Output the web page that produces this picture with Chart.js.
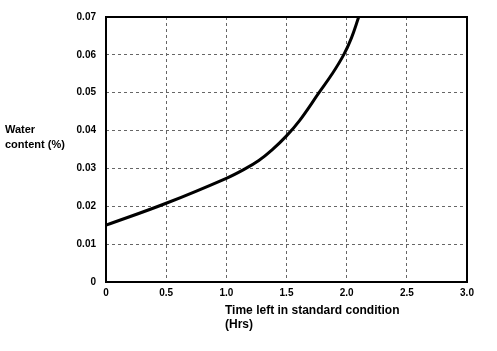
<!DOCTYPE html>
<html>
<head>
<meta charset="utf-8">
<script src="https://cdn.jsdelivr.net/npm/chart.js@4"></script>
<style>
  html, body { margin: 0; padding: 0; background: #fff; }
  #wrap { width: 497px; height: 351px; }
</style>
</head>
<body>
<div id="wrap"><canvas id="waterChart" width="497" height="351"></canvas></div>
<script>
// data
const timeHrs = [0, 0.5, 1.0, 1.15, 1.27, 1.38, 1.5, 1.61, 1.77, 1.88, 1.975, 2.04, 2.10];
const waterContent = [0.015, 0.0208, 0.0274, 0.0298, 0.0321, 0.0349, 0.0386, 0.0427, 0.0500, 0.0550, 0.0600, 0.0645, 0.0700];
const xTitleLines = ['Time left in standard condition', '(Hrs)'];
const yTitleLines = ['Water', 'content (%)'];

const points = timeHrs.map((t, i) => ({ x: t, y: waterContent[i] }));

// draws the frame round the plot and the axis titles
const frameAndTitles = {
    id: 'frameAndTitles',
    afterDraw: (chart) => {
        const { ctx, chartArea } = chart;
        ctx.save();
        ctx.strokeStyle = '#000';
        ctx.lineWidth = 2;
        ctx.setLineDash([]);
        ctx.strokeRect(chartArea.left, chartArea.top, chartArea.right - chartArea.left, chartArea.bottom - chartArea.top);

        ctx.fillStyle = '#000';
        ctx.textBaseline = 'middle';
        ctx.textAlign = 'left';
        ctx.font = 'bold 11px "Liberation Sans", Arial, sans-serif';
        ctx.fillText(yTitleLines[0], 5, 130);
        ctx.fillText(yTitleLines[1], 5, 145);

        ctx.font = 'bold 12px "Liberation Sans", Arial, sans-serif';
        ctx.fillText(xTitleLines[0], 225, 311);
        ctx.fillText(xTitleLines[1], 225, 325);
        ctx.restore();
    }
};

const tickFont = { family: '"Liberation Sans", Arial, sans-serif', size: 10, weight: 'bold' };

new Chart(document.getElementById('waterChart').getContext('2d'), {
    type: 'scatter',
    data: {
        datasets: [{
            data: points,
            showLine: true,
            borderColor: '#000',
            borderWidth: 3,
            pointRadius: 0,
            tension: 0.4,
            clip: 3
        }]
    },
    options: {
        responsive: false,
        animation: false,
        layout: { padding: { top: 17, right: 30, left: 0, bottom: 0 } },
        plugins: {
            legend: { display: false },
            tooltip: { enabled: false }
        },
        scales: {
            x: {
                type: 'linear',
                min: 0,
                max: 3,
                afterFit: (scale) => { scale.height = 69; },
                ticks: {
                    stepSize: 0.5,
                    color: '#000',
                    font: tickFont,
                    padding: 5,
                    callback: (v) => v === 0 ? '0' : v.toFixed(1)
                },
                grid: {
                    color: '#666',
                    lineWidth: 1,
                    drawTicks: false
                },
                border: { display: false, dash: [3, 3] }
            },
            y: {
                type: 'linear',
                min: 0,
                max: 0.07,
                afterFit: (scale) => { scale.width = 106; },
                ticks: {
                    stepSize: 0.01,
                    color: '#000',
                    font: tickFont,
                    padding: 10,
                    callback: (v) => Math.abs(v) < 1e-9 ? '0' : v.toFixed(2)
                },
                grid: {
                    color: '#666',
                    lineWidth: 1,
                    drawTicks: false
                },
                border: { display: false, dash: [3, 3] }
            }
        }
    },
    plugins: [frameAndTitles]
});
</script>
</body>
</html>
